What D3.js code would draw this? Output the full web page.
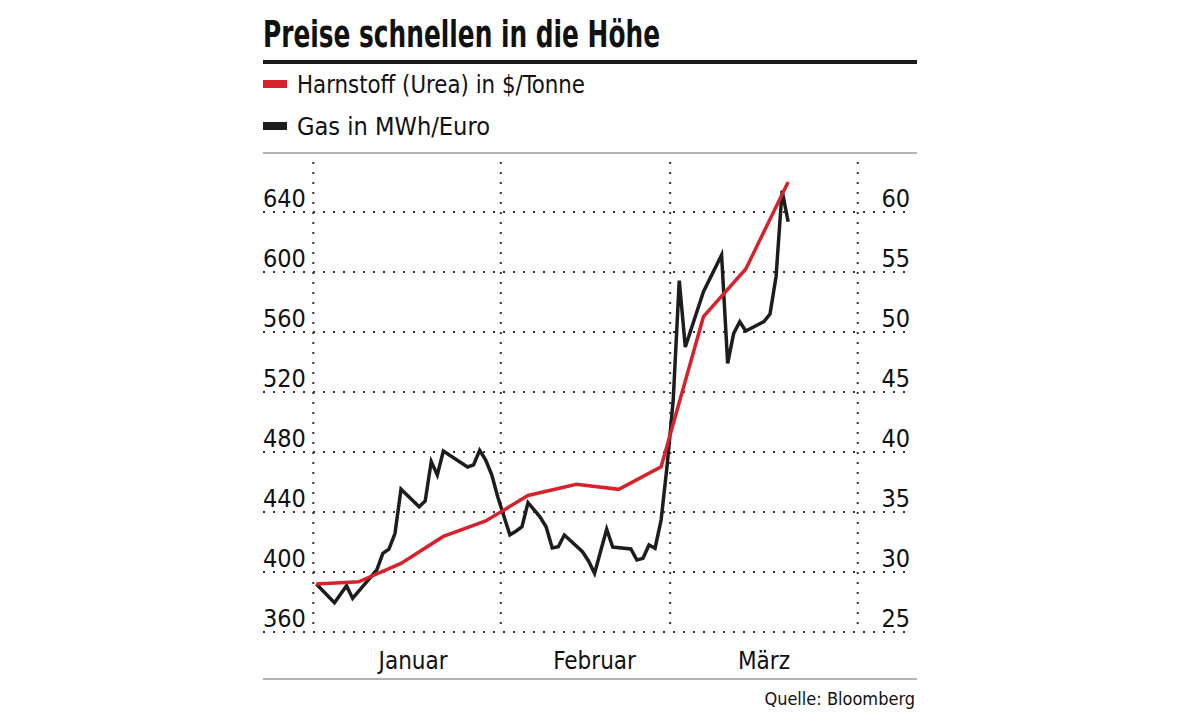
<!DOCTYPE html>
<html>
<head>
<meta charset="utf-8">
<script src="https://cdn.jsdelivr.net/npm/d3@7"></script>
<style>
  html, body { margin: 0; padding: 0; background: #fff; }
  svg { display: block; }
  text { font-family: "Liberation Sans Narrow", "DejaVu Sans Condensed", "Roboto", sans-serif; fill: #111; }
</style>
</head>
<body>
<div id="chart"></div>
<script>
// data
const ureaDates = ["2022-01-01", "2022-01-08", "2022-01-15", "2022-01-22", "2022-01-29", "2022-02-05",
    "2022-02-13", "2022-02-20", "2022-02-27", "2022-03-06", "2022-03-13", "2022-03-20"];
const ureaValues = [392, 393.5, 405.7, 423.7, 434, 451, 458.5, 455.1, 470.2, 570.2, 602, 660];

const gasDates = ["2022-01-01", "2022-01-04", "2022-01-06", "2022-01-07", "2022-01-11", "2022-01-12",
    "2022-01-13", "2022-01-14", "2022-01-15", "2022-01-18", "2022-01-19", "2022-01-20", "2022-01-21",
    "2022-01-22", "2022-01-26", "2022-01-27", "2022-01-28", "2022-01-29", "2022-01-30", "2022-01-31",
    "2022-02-01", "2022-02-02", "2022-02-03", "2022-02-04", "2022-02-05", "2022-02-07", "2022-02-08",
    "2022-02-09", "2022-02-10", "2022-02-11", "2022-02-14", "2022-02-15", "2022-02-16", "2022-02-18",
    "2022-02-19", "2022-02-22", "2022-02-23", "2022-02-24", "2022-02-25", "2022-02-26", "2022-02-27",
    "2022-02-28", "2022-03-01", "2022-03-02", "2022-03-03", "2022-03-06", "2022-03-09", "2022-03-10",
    "2022-03-11", "2022-03-12", "2022-03-13", "2022-03-16", "2022-03-17", "2022-03-18", "2022-03-19",
    "2022-03-20"];
const gasValues = [29.0, 27.44, 28.86, 27.8, 30.17, 31.56,
    31.9, 33.2, 36.9, 35.44, 35.92, 39.2, 38.08,
    40.08, 38.75, 38.92, 40.14, 39.33, 38.1, 36.25,
    34.67, 33.1, 33.4, 33.78, 35.78, 34.58, 33.75,
    32.0, 32.1, 33.08, 31.69, 30.92, 29.89, 33.56,
    32.08, 31.92, 31.0, 31.14, 32.25, 31.98, 34.33,
    38.9, 44.33, 54.28, 48.75, 53.36, 56.42, 47.39,
    49.89, 50.86, 50.08, 50.86, 51.5, 54.61, 61.78,
    59.19];

const leftTicks = [360, 400, 440, 480, 520, 560, 600, 640];
const rightTicks = [25, 30, 35, 40, 45, 50, 55, 60];
const monthStarts = ["2022-01-01", "2022-02-01", "2022-03-01", "2022-04-01"];
const monthLabels = ["Januar", "Februar", "März"];
const monthLabelDates = ["2022-01-17", "2022-02-16", "2022-03-16"];

const legendLabels = ["Harnstoff (Urea) in $/Tonne", "Gas in MWh/Euro"];
const TITLE = "Preise schnellen in die Höhe";
const SOURCE = "Quelle: Bloomberg";

const WIDTH = 1179;
const HEIGHT = 713;
const FRAME_LEFT = 263;
const FRAME_RIGHT = 917;
const PLOT_LEFT = 313.3;
const PLOT_RIGHT = 857.7;
const PLOT_TOP = 162;
const PLOT_BOTTOM = 632;
const RED = "#d6232b";
const BLACK = "#1d1d1b";

// the reference uses a narrow face, so squeeze the wide texts to its widths
const TITLE_WIDTH = 397;
const LEGEND_WIDTHS = [288, 193];

const parse = d3.utcParse("%Y-%m-%d");
// daily values sit in the middle of their day
const noon = s => new Date(parse(s).getTime() + 12 * 3600 * 1000);

const svg = d3.select("#chart")
    .append("svg")
    .attr("width", WIDTH)
    .attr("height", HEIGHT);

// scales
const xScale = d3.scaleUtc()
    .domain([parse(monthStarts[0]), parse(monthStarts[3])])
    .range([PLOT_LEFT, PLOT_RIGHT]);

const yLeft = d3.scaleLinear()
    .domain([360, 640])
    .range([PLOT_BOTTOM, 212]);

const yRight = d3.scaleLinear()
    .domain([25, 60])
    .range([PLOT_BOTTOM, 212]);

// title and rules
svg.append("text")
    .attr("x", FRAME_LEFT)
    .attr("y", 47)
    .attr("textLength", TITLE_WIDTH)
    .attr("lengthAdjust", "spacingAndGlyphs")
    .style("font-size", "38px")
    .style("font-weight", "bold")
    .text(TITLE);

svg.append("line")
    .attr("x1", FRAME_LEFT).attr("x2", FRAME_RIGHT)
    .attr("y1", 62).attr("y2", 62)
    .attr("stroke", "#1a1a1a")
    .attr("stroke-width", 4);

// legend
const legend = svg.append("g");
[RED, BLACK].forEach((color, i) => {
    const y = 84 + i * 42;
    legend.append("rect")
        .attr("x", FRAME_LEFT).attr("y", y - 4)
        .attr("width", 24).attr("height", 8)
        .attr("fill", color);
    legend.append("text")
        .attr("x", 297).attr("y", y + 9)
        .attr("textLength", LEGEND_WIDTHS[i])
        .attr("lengthAdjust", "spacingAndGlyphs")
        .style("font-size", "25px")
        .text(legendLabels[i]);
});

svg.append("line")
    .attr("x1", FRAME_LEFT).attr("x2", FRAME_RIGHT)
    .attr("y1", 153).attr("y2", 153)
    .attr("stroke", "#9a9a9a")
    .attr("stroke-width", 1.5);

// dotted grid
const grid = svg.append("g")
    .attr("stroke", "#333")
    .attr("stroke-width", 2)
    .attr("stroke-dasharray", "2 8");

grid.selectAll("line.h")
    .data(leftTicks)
    .join("line")
    .attr("class", "h")
    .attr("x1", FRAME_LEFT).attr("x2", 912)
    .attr("y1", d => yLeft(d)).attr("y2", d => yLeft(d));

grid.selectAll("line.v")
    .data(monthStarts.map(parse))
    .join("line")
    .attr("class", "v")
    .attr("x1", d => xScale(d)).attr("x2", d => xScale(d))
    .attr("y1", PLOT_TOP).attr("y2", PLOT_BOTTOM);

// axis labels
svg.append("g")
    .selectAll("text")
    .data(leftTicks)
    .join("text")
    .attr("x", FRAME_LEFT)
    .attr("y", d => yLeft(d) - 5)
    .style("font-size", "25px")
    .text(d => d);

svg.append("g")
    .selectAll("text")
    .data(rightTicks)
    .join("text")
    .attr("x", 910)
    .attr("y", d => yRight(d) - 5)
    .attr("text-anchor", "end")
    .style("font-size", "25px")
    .text(d => d);

svg.append("g")
    .selectAll("text")
    .data(monthLabels)
    .join("text")
    .attr("x", (d, i) => xScale(noon(monthLabelDates[i])))
    .attr("y", 669)
    .attr("text-anchor", "middle")
    .style("font-size", "24px")
    .text(d => d);

// lines
const gasData = gasDates.map((d, i) => ({date: noon(d), value: gasValues[i]}));
const ureaData = ureaDates.map((d, i) => ({date: noon(d), value: ureaValues[i]}));

svg.append("path")
    .datum(gasData)
    .attr("fill", "none")
    .attr("stroke", BLACK)
    .attr("stroke-width", 3.5)
    .attr("d", d3.line().x(d => xScale(d.date)).y(d => yRight(d.value)));

svg.append("path")
    .datum(ureaData)
    .attr("fill", "none")
    .attr("stroke", RED)
    .attr("stroke-width", 3.5)
    .attr("d", d3.line().x(d => xScale(d.date)).y(d => yLeft(d.value)));

// footer
svg.append("line")
    .attr("x1", FRAME_LEFT).attr("x2", FRAME_RIGHT)
    .attr("y1", 679).attr("y2", 679)
    .attr("stroke", "#9a9a9a")
    .attr("stroke-width", 1.5);

svg.append("text")
    .attr("x", 915)
    .attr("y", 705)
    .attr("text-anchor", "end")
    .style("font-size", "18px")
    .text(SOURCE);
</script>
</body>
</html>
